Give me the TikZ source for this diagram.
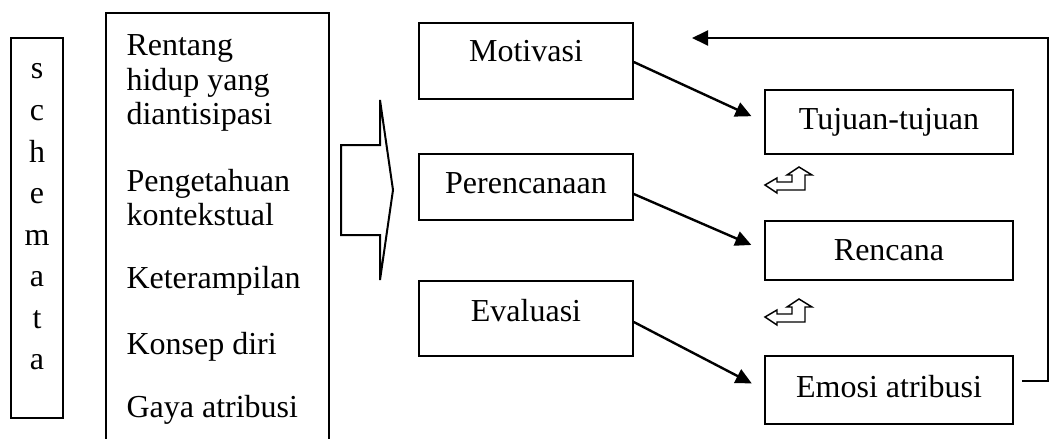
\documentclass[tikz,border=0pt]{standalone}
\usepackage{fontspec}
\setmainfont{Liberation Serif}
\usepackage{tikz}
\usetikzlibrary{arrows.meta}

\begin{document}
\begin{tikzpicture}
[
x=0.375pt, y=-0.375pt,
every node/.style={
	inner sep=0pt,
	font=\fontsize{12}{14}\selectfont},
midBox/.style={
	draw=black,
	line width=0.6pt,
	rectangle,
	minimum width=80.25pt},
sideBox/.style={
	draw=black,
	line width=0.6pt,
	rectangle,
	minimum width=93pt},
itemText/.style={
	anchor=base west,
	align=left,
	font=\fontsize{12}{13.1}\selectfont},
regArr/.style={
	-{Triangle[length=6pt,width=5.6pt]},
	line width=0.9pt,
	shorten >=5.25pt},
fbArr/.style={
	-{Triangle[length=6pt,width=5.6pt]},
	line width=0.8pt},
symLine/.style={
	line width=0.55pt,
	line join=miter}
]
\path[use as bounding box, clip] (0,0) rectangle (1049,439);

%schemata column (base = last line)
\node[draw, line width=0.6pt, minimum width=19.5pt, minimum height=142.5pt] (schemaBox) at (37,228) {};
\node[anchor=base, align=center, font=\fontsize{12}{15.6}\selectfont] (schema) at (37,370) {s\\c\\h\\e\\m\\a\\t\\a};

%factor column (base = last line)
\node[draw, line width=0.6pt, anchor=north west, minimum width=83.6pt, minimum height=172.5pt] (factors) at (105,12) {};
\node[itemText] (rentang) at (126,125) {Rentang\\hidup yang\\diantisipasi};
\node[itemText] (pengetahuan) at (126,226) {Pengetahuan\\kontekstual};
\node[itemText] (terampil) at (126,288) {Keterampilan};
\node[itemText] (konsep) at (126,355) {Konsep diri};
\node[itemText] (gaya) at (126,418) {Gaya atribusi};

%block arrow
\draw[line width=0.75pt, line join=miter] (341,145) -- (380,145) -- (380,100) -- (393,190)
	-- (380,280) -- (380,235) -- (341,235) -- cycle;

%process boxes
\node[midBox, anchor=base, text height=14.6pt, text depth=13.9pt] (motivasi) at (526,62) {Motivasi};
\node[midBox, anchor=base, text height=15pt, text depth=9.75pt] (perencanaan) at (526,194) {Perencanaan};
\node[midBox, anchor=base, text height=15.4pt, text depth=12.75pt] (evaluasi) at (526,322) {Evaluasi};

%result boxes
\node[sideBox, anchor=base, text height=14.6pt, text depth=9.4pt] (tujuan) at (889,129) {Tujuan-tujuan};
\node[sideBox, anchor=base, text height=14.6pt, text depth=7.5pt] (rencana) at (889,260) {Rencana};
\node[sideBox, anchor=base, text height=15.4pt, text depth=10.1pt] (emosi) at (889,397) {Emosi atribusi};

%process to result
\draw [regArr] (motivasi.base east) -- (tujuan.west);
\draw [regArr] (perencanaan.base east) -- (rencana.west);
\draw [regArr] (evaluasi.base east) -- (emosi.west);

%feedback loop
\coordinate (fbCorner) at (1048,38);
\coordinate (fbEnd) at (692,38);
\draw [fbArr] ([xshift=3pt,yshift=3.4pt]emosi.east) -| (fbCorner) -- (fbEnd);

%bent arrow symbols
\foreach \dy in {0,132}
{
\draw[symLine, shift={(0,\dy)}] (765,185) -- (777,178) -- (777,182) -- (792,182) -- (792,175)
	-- (787,175) -- (799,167) -- (812,175) -- (805,175) -- (805,190) -- (777,190) -- (777,193) -- cycle;
}

\end{tikzpicture}
\end{document}
